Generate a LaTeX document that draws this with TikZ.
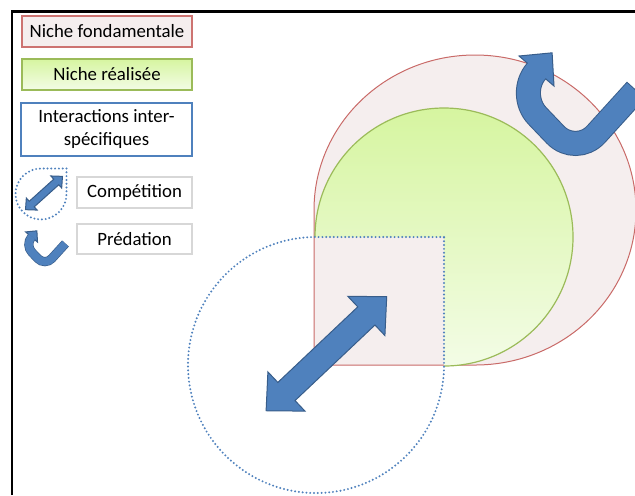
\documentclass[tikz,border=0pt]{standalone}
\usepackage{fontspec}
\setmainfont{Carlito}
\definecolor{nicheRed}{RGB}{192,80,77}
\definecolor{nichePink}{RGB}{245,238,238}
\definecolor{nicheGreen}{RGB}{155,187,89}
\definecolor{greenTop}{RGB}{214,245,160}
\definecolor{greenBot}{RGB}{243,252,230}
\definecolor{interBlue}{RGB}{79,129,189}
\definecolor{interEdge}{RGB}{56,93,138}
\definecolor{boxGray}{RGB}{215,215,215}

\tikzset{
  legendbox/.style={draw, line width=0.6pt, minimum height=15.5pt, inner sep=1pt,
    align=center, font=\fontsize{9.4}{11.5}\selectfont},
  fundniche/.style={fill=nichePink, draw=nicheRed!85},
  realniche/.style={top color=greenTop, bottom color=greenBot},
  arrowbody/.style={fill=interBlue, draw=interEdge, line width=0.5pt},
  competzone/.style={draw=interBlue, line width=1.1pt, dash pattern=on 0pt off 1.9pt, line cap=round}
}

% U-turn arrow: #1,#2 = lower bend, #3 = scale
\newcommand\uturnarrow[3]{%
  \begin{scope}[shift={(#1,#2)}, scale=#3]
    \draw[line width=#3*11.5pt+0.5pt+#3*0.5pt, draw=interEdge, rounded corners=#3*15pt]
      (60.2,66.3) -- (0,0) -- (-59.4,62.1) -- (-39.5,85.3);
    \filldraw[arrowbody] (-22,70.3) -- (-23.9,103.5) -- (-57,100.3) -- cycle;
    \draw[line width=#3*11.5pt, draw=interBlue, rounded corners=#3*15pt]
      (59.5,65.6) -- (0,0) -- (-59.4,62.1) -- (-38.2,86.8);
  \end{scope}}

% double arrow: #1,#2 = centre, #3 = angle, #4 = scale
\newcommand\dblarrow[4]{%
  \begin{scope}[shift={(#1,#2)}, rotate=#3, scale=#4]
    \filldraw[arrowbody] (-83,0) -- (-55,27) -- (-55,12.5) -- (55,12.5) -- (55,27) -- (83,0)
      -- (55,-27) -- (55,-12.5) -- (-55,-12.5) -- (-55,-27) -- cycle;
  \end{scope}}

% dotted zone: circle with a square corner top right
\newcommand\dottear[3]{%
  \draw[competzone] (#1+#3,#2+#3) -- (#1,#2+#3) arc[start angle=90, end angle=360, radius=#3] -- cycle;}

\begin{document}
\begin{tikzpicture}[x=0.5pt, y=0.5pt]
    \useasboundingbox (0,0) rectangle (635,-495);

    % frame
    \draw[line width=1.2pt] (11.7,-495) -- (11.7,-11.5) -- (640,-11.5);

    % legend
    \node[legendbox, draw=nicheRed!80, fill=nichePink, minimum width=85pt] (fond) at (107,-31.5) {Niche fondamentale};
    \node[legendbox, draw=nicheGreen, realniche, minimum width=85pt] (real) at (107,-74.5) {Niche réalisée};
    \node[legendbox, draw=interBlue, minimum width=85.5pt, minimum height=26.5pt] (inter) at (106.5,-129.5) {Interactions inter-\\spécifiques};
    \node[legendbox, draw=boxGray, minimum width=57.5pt] (comp) at (134.5,-192.5) {Compétition};
    \node[legendbox, draw=boxGray, minimum width=57.5pt, minimum height=15pt] (pred) at (134.5,-239) {Prédation};

    \dottear{41}{-194}{25.5}
    \dblarrow{44}{-193}{42}{0.3}
    \uturnarrow{45}{-266}{0.34}

    % fundamental niche
    \filldraw[fundniche, line width=0.5pt] (314,-365) -- (314,-210)
      arc[start angle=180, end angle=-90, x radius=161, y radius=155] -- cycle;

    % realised niche (lower left quarter left out)
    \shade[realniche] (444,-237) -- (315,-237) arc[start angle=180, end angle=-90, radius=129] -- cycle;
    \draw[nicheGreen, line width=0.6pt] (315,-237) arc[start angle=180, end angle=-90, radius=129];

    % interactions
    \dottear{316}{-365}{128}
    \dblarrow{326.4}{-353.7}{43.4}{1}
    \uturnarrow{576}{-156.3}{1}
\end{tikzpicture}
\end{document}
